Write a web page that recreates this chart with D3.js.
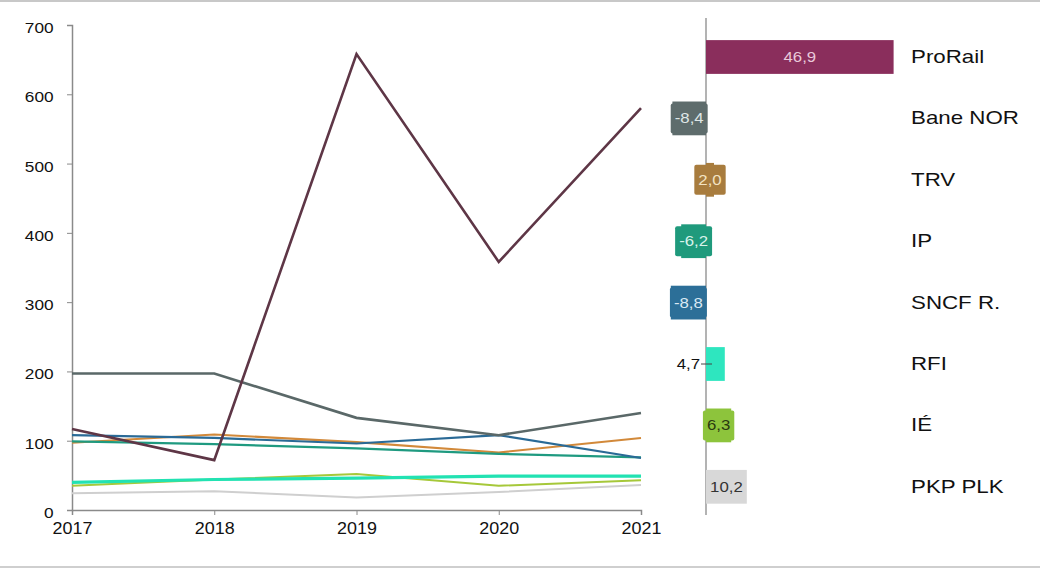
<!DOCTYPE html>
<html><head><meta charset="utf-8">
<script src="https://cdn.jsdelivr.net/npm/d3@7"></script>
<style>body{margin:0;background:#fff}svg{display:block}</style>
</head><body>
<svg id="c" width="1040" height="571"></svg>
<script>
const years = [2017, 2018, 2019, 2020, 2021];
const categories = ["ProRail", "Bane NOR", "TRV", "IP", "SNCF R.", "RFI", "IÉ", "PKP PLK"];
const proRail = [117, 72, 658, 358, 580];
const baneNor = [197, 197, 133, 108, 140];
const trv = [97, 109, 98, 83, 104];
const ip = [99, 95, 89, 81, 76];
const sncf = [108, 104, 96, 108, 75];
const rfi = [40, 44, 46, 49, 49];
const ie = [35, 44, 52, 35, 43];
const pkp = [24, 27, 18, 26, 36];
const seriesValues = [proRail, baneNor, trv, ip, sncf, rfi, ie, pkp];
const changes = [46.9, -8.4, 2.0, -6.2, -8.8, 4.7, 6.3, 10.2];
const changeLabels = ["46,9", "-8,4", "2,0", "-6,2", "-8,8", "4,7", "6,3", "10,2"];
const yTicks = [0, 100, 200, 300, 400, 500, 600, 700];

const lineColors = ["#5e3646", "#5a6868", "#d2893a", "#1f9a80", "#2a6a96", "#22e2b2", "#a6c83a", "#cfcfcf"];
const barColors = ["#8a2e5c", "#5e6c6c", "#a87c3e", "#1f9a7c", "#2c6f98", "#2ee6bf", "#8dc43c", "#d8d8d8"];
const labelColors = ["#e9c9da", "#dfe6e6", "#f3e3c3", "#d8f2ea", "#d9e8f3", "#111", "#2a3a10", "#333"];
const lineWidths = [2.6, 2.6, 2.1, 2.2, 2.2, 3.2, 2, 2];

const FONT = "'Liberation Sans', Arial, sans-serif";
const svg = d3.select("#c");

// frame lines
svg.append("line").attr("x1",0).attr("x2",1040).attr("y1",1).attr("y2",1).attr("stroke","#c8c8c8").attr("stroke-width",2);
svg.append("line").attr("x1",0).attr("x2",1040).attr("y1",567).attr("y2",567).attr("stroke","#cfcfcf").attr("stroke-width",2);

// ---- line chart ----
const x = d3.scalePoint().domain(years).range([72, 641]);
const y = d3.scaleLinear().domain([0, 700]).range([510, 25]);

const gy = svg.append("g").attr("transform", "translate(72,0)")
  .call(d3.axisLeft(y).tickValues(yTicks).tickSize(5).tickPadding(11).tickFormat(d3.format("d")));
gy.select(".domain").attr("stroke", "#8a8a8a").attr("stroke-width", 1.5);
gy.selectAll(".tick line").attr("stroke", "#8a8a8a");
gy.selectAll(".tick text").attr("font-family", FONT).attr("font-size", 15).attr("fill", "#111")
  .attr("dy", "0.5em").attr("transform", "scale(1.15,1)");

const gx = svg.append("g").attr("transform", "translate(0,510)")
  .call(d3.axisBottom(x).tickSize(5).tickPadding(8).tickFormat(d3.format("d")));
gx.select(".domain").attr("stroke", "#8a8a8a").attr("stroke-width", 1.5);
gx.selectAll(".tick line").attr("stroke", "#8a8a8a");
gx.selectAll(".tick text").attr("font-family", FONT).attr("font-size", 16).attr("fill", "#111")
  .attr("transform", "scale(1.12,1)");

const line = d3.line().x((d, i) => x(years[i])).y(d => y(d));
const order = [7, 6, 5, 2, 3, 4, 1, 0];
order.forEach(i => {
  svg.append("path").datum(seriesValues[i]).attr("d", line)
    .attr("fill", "none").attr("stroke", lineColors[i]).attr("stroke-width", lineWidths[i])
    .attr("stroke-linejoin", "miter");
});

// ---- bar chart ----
const xb = d3.scaleLinear().domain([-10, 50]).range([666, 906]);
const yb = d3.scaleBand().domain(categories).range([26.3, 517.5]).padding(0);
const bh = yb.bandwidth() * 0.55;

svg.append("line").attr("x1", xb(0)).attr("x2", xb(0)).attr("y1", 18).attr("y2", 515)
  .attr("stroke", "#8a8a8a").attr("stroke-width", 1.3);

categories.forEach((c, i) => {
  const v = changes[i];
  const cy = yb(c) + yb.bandwidth() / 2;
  const x0 = Math.min(xb(0), xb(v)), x1 = Math.max(xb(0), xb(v));
  svg.append("rect").attr("x", x0).attr("y", cy - bh / 2).attr("width", x1 - x0).attr("height", bh)
    .attr("fill", barColors[i]);

  const fs = 14, sx = 1.2;
  const g = svg.append("g");
  const t = g.append("text").text(changeLabels[i]).attr("font-family", FONT).attr("font-size", fs)
    .attr("fill", labelColors[i]);
  const tw = t.node().getComputedTextLength() * sx;
  if (c === "RFI") {
    t.attr("text-anchor", "end").attr("transform", `translate(${xb(0) - 6},${cy + 5}) scale(${sx},1)`);
    g.append("line").attr("x1", xb(0) - 5).attr("x2", xb(0) + 6).attr("y1", cy).attr("y2", cy)
      .attr("stroke", "#444").attr("stroke-width", 1);
  } else {
    const cx = (x0 + x1) / 2;
    if (tw + 8 > x1 - x0) {
      g.insert("rect", "text").attr("x", cx - (tw + 8) / 2).attr("y", cy - 15).attr("width", tw + 8)
        .attr("height", 30).attr("rx", 2).attr("fill", barColors[i]);
    }
    t.attr("text-anchor", "middle").attr("transform", `translate(${cx},${cy + 5}) scale(${sx},1)`);
  }

  svg.append("text").text(c).attr("font-family", FONT).attr("font-size", 18).attr("fill", "#111")
    .attr("transform", `translate(911,${cy + 6}) scale(1.24,1)`);
});
</script>
</body></html>
